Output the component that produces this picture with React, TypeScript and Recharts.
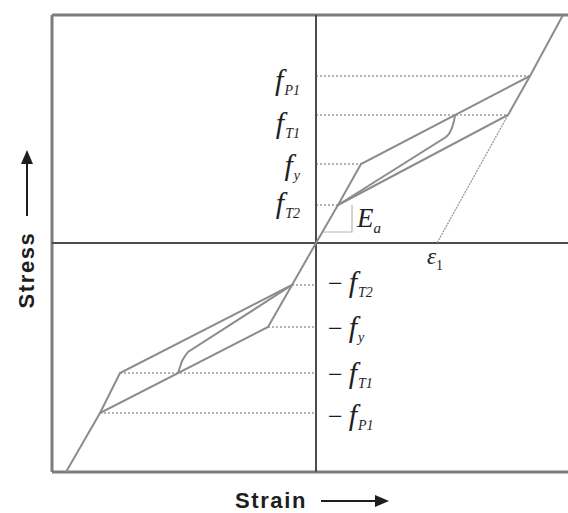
import React from 'react';
import {
  ComposedChart,
  Line,
  XAxis,
  YAxis,
  ReferenceLine,
  ReferenceDot,
} from 'recharts';

// Tension side: elastic loading, upper plateau, and elastic reloading
const loadingPathPos = [
  { x: 0, y: 0 },
  { x: 22, y: 38 },
  { x: 45, y: 79 },
  { x: 214, y: 167 },
  { x: 247, y: 228 },
];
// Tension side: unloading and lower plateau back to f_T2
const unloadingPathPos = [
  { x: 214, y: 167 },
  { x: 192, y: 128 },
  { x: 22, y: 38 },
];
// Tension side: partial inner loop starting from f_T1 on the upper plateau
const innerLoopPos = [
  { x: 139, y: 128 },
  { x: 138, y: 122 },
  { x: 136, y: 115 },
  { x: 133, y: 109 },
  { x: 130, y: 106 },
  { x: 22, y: 38 },
];
// Elastic unloading line down to the residual strain ε1
const residualLine = [
  { x: 192, y: 128 },
  { x: 121, y: 0 },
];

// Compression side
const loadingPathNeg = [
  { x: 0, y: 0 },
  { x: -24, y: -42 },
  { x: -48, y: -84 },
  { x: -216, y: -170 },
  { x: -250, y: -229 },
];
const unloadingPathNeg = [
  { x: -24, y: -42 },
  { x: -196, y: -130 },
  { x: -216, y: -170 },
];
const innerLoopNeg = [
  { x: -24, y: -42 },
  { x: -128, y: -109 },
  { x: -131, y: -113 },
  { x: -134, y: -118 },
  { x: -136, y: -124 },
  { x: -138, y: -130 },
];

// Characteristic stress levels and the strain where each dotted guide ends
const levelNames = ['P1', 'T1', 'y', 'T2'];
const levelsPos = [167, 128, 79, 38];
const levelEndsPos = [214, 192, 45, 22];
const levelsNeg = [-170, -130, -84, -42];
const levelEndsNeg = [-216, -196, -48, -24];

// Residual strain marker
const residualStrain = 121;

// Slope triangle for E_a
const slopeTriangle = [
  { x: 36, y: 38 },
  { x: 36, y: 11 },
  { x: 7, y: 11 },
];

const X_DOMAIN: [number, number] = [-264, 252];
const Y_DOMAIN: [number, number] = [-229, 228];

const LINE = '#8c8c8c';
const GUIDE = '#9a9a9a';
const FRAME = '#7d7d7d';
const AXIS = '#4d4d4d';
const INK = '#1e1e1e';
const SERIF = '"Liberation Serif", "DejaVu Serif", serif';
const SANS = '"Liberation Sans", Arial, sans-serif';

// Baseline offsets (px) of each level label from its guide line, same order as the level arrays
const upperDy = [14, 18, 11, 8];
const lowerDy = [12, 10, 10, 7];

const StressSymbol = ({ viewBox, sub, negative, dy }: any) => {
  const { x, y } = viewBox;
  if (negative) {
    return (
      <text x={x + 13} y={y + 1 + dy} fontFamily={SERIF} fill={INK}>
        <tspan fontSize={26}>−</tspan>
        <tspan dx={6} fontSize={30} fontStyle="italic">f</tspan>
        <tspan fontSize={14} fontStyle="italic" dy={5} dx={1}>{sub}</tspan>
      </text>
    );
  }
  return (
    <text x={x - 15} y={y + 1 + dy} textAnchor="end" fontFamily={SERIF} fill={INK}>
      <tspan fontSize={30} fontStyle="italic">f</tspan>
      <tspan fontSize={14} fontStyle="italic" dy={5} dx={1}>{sub}</tspan>
    </text>
  );
};

const EaLabel = ({ viewBox }: any) => {
  const { x, y } = viewBox;
  return (
    <text x={x - 1} y={y + 1} fontFamily={SERIF} fill={INK}>
      <tspan fontSize={27} fontStyle="italic">E</tspan>
      <tspan fontSize={15} fontStyle="italic" dy={6}>a</tspan>
    </text>
  );
};

const EpsLabel = ({ viewBox }: any) => {
  const { x, y } = viewBox;
  return (
    <text x={x - 9} y={y + 22} fontFamily={SERIF} fill={INK}>
      <tspan fontSize={23} fontStyle="italic">ε</tspan>
      <tspan fontSize={14} dy={6}>1</tspan>
    </text>
  );
};

const StrainTitle = ({ viewBox }: any) => {
  const { x, y } = viewBox;
  return (
    <g>
      <text x={x - 80} y={y + 266} fontFamily={SANS} fontWeight="bold" fontSize={22} fill={INK} letterSpacing={1.6}>
        Strain
      </text>
      <line x1={x + 6} y1={y + 259} x2={x + 62} y2={y + 259} stroke={INK} strokeWidth={2} />
      <polygon points={`${x + 74},${y + 259} ${x + 60},${y + 253} ${x + 60},${y + 265}`} fill={INK} />
    </g>
  );
};

const StressTitle = ({ viewBox }: any) => {
  const { x, y } = viewBox;
  const cx = x - 288;
  return (
    <g>
      <text
        x={cx + 7}
        y={y + 28}
        transform={`rotate(-90 ${cx + 7} ${y + 28})`}
        fontFamily={SANS}
        fontWeight="bold"
        fontSize={22}
        fill={INK}
        letterSpacing={1.6}
        textAnchor="middle"
      >
        Stress
      </text>
      <line x1={cx} y1={y - 26} x2={cx} y2={y - 78} stroke={INK} strokeWidth={2} />
      <polygon points={`${cx},${y - 92} ${cx - 6},${y - 78} ${cx + 6},${y - 78}`} fill={INK} />
    </g>
  );
};

const series = [
  loadingPathPos,
  unloadingPathPos,
  innerLoopPos,
  loadingPathNeg,
  unloadingPathNeg,
  innerLoopNeg,
];

export default function App() {
  return (
    <div style={{ position: 'absolute', left: 0, top: 0, width: 568, height: 513, background: '#fff' }}>
      <ComposedChart width={568} height={513} margin={{ top: 15, right: 0, bottom: 41, left: 52 }}>
        <XAxis type="number" dataKey="x" domain={X_DOMAIN} allowDataOverflow hide />
        <YAxis type="number" dataKey="y" domain={Y_DOMAIN} allowDataOverflow hide />

        {/* frame: left, top, bottom */}
        <ReferenceLine x={X_DOMAIN[0]} stroke={FRAME} strokeWidth={3} />
        <ReferenceLine y={Y_DOMAIN[1]} stroke={FRAME} strokeWidth={3} />
        <ReferenceLine y={Y_DOMAIN[0]} stroke={FRAME} strokeWidth={3} />

        {/* dotted guides at the characteristic stress levels */}
        {levelsPos.map((lv, i) => (
          <ReferenceLine
            key={`gp${i}`}
            segment={[{ x: 0, y: lv }, { x: levelEndsPos[i], y: lv }]}
            stroke={GUIDE}
            strokeWidth={1.5}
            strokeDasharray="2 2"
          />
        ))}
        {levelsNeg.map((lv, i) => (
          <ReferenceLine
            key={`gn${i}`}
            segment={[{ x: levelEndsNeg[i], y: lv }, { x: 0, y: lv }]}
            stroke={GUIDE}
            strokeWidth={1.5}
            strokeDasharray="2 2"
          />
        ))}

        {/* axes through the origin */}
        <ReferenceLine x={0} stroke={AXIS} strokeWidth={2} />
        <ReferenceLine y={0} stroke={AXIS} strokeWidth={2} />

        <Line
          data={residualLine}
          dataKey="y"
          type="linear"
          stroke={GUIDE}
          strokeWidth={1.3}
          strokeDasharray="2 1"
          dot={false}
          activeDot={false}
          isAnimationActive={false}
        />
        <Line
          data={slopeTriangle}
          dataKey="y"
          type="linear"
          stroke="#b5b5b5"
          strokeWidth={1.2}
          dot={false}
          activeDot={false}
          isAnimationActive={false}
        />

        {series.map((d, i) => (
          <Line
            key={`s${i}`}
            data={d}
            dataKey="y"
            type="linear"
            stroke={LINE}
            strokeWidth={2}
            dot={false}
            activeDot={false}
            isAnimationActive={false}
          />
        ))}

        {levelsPos.map((lv, i) => (
          <ReferenceDot
            key={`lp${i}`}
            x={0}
            y={lv}
            r={1}
            fill="none"
            stroke="none"
            ifOverflow="visible"
            label={(p: any) => <StressSymbol {...p} sub={levelNames[i]} dy={upperDy[i]} />}
          />
        ))}
        {levelsNeg.map((lv, i) => (
          <ReferenceDot
            key={`ln${i}`}
            x={0}
            y={lv}
            r={1}
            fill="none"
            stroke="none"
            ifOverflow="visible"
            label={(p: any) => <StressSymbol {...p} sub={levelNames[i]} negative dy={lowerDy[i]} />}
          />
        ))}

        <ReferenceDot
          x={43}
          y={16}
          r={1}
          fill="none"
          stroke="none"
          ifOverflow="visible"
          label={(p: any) => <EaLabel {...p} />}
        />
        <ReferenceDot
          x={residualStrain}
          y={0}
          r={1}
          fill="none"
          stroke="none"
          ifOverflow="visible"
          label={(p: any) => <EpsLabel {...p} />}
        />
        <ReferenceDot
          x={0}
          y={0}
          r={1}
          fill="none"
          stroke="none"
          ifOverflow="visible"
          label={(p: any) => (
            <g>
              <StrainTitle {...p} />
              <StressTitle {...p} />
            </g>
          )}
        />
      </ComposedChart>
    </div>
  );
}
